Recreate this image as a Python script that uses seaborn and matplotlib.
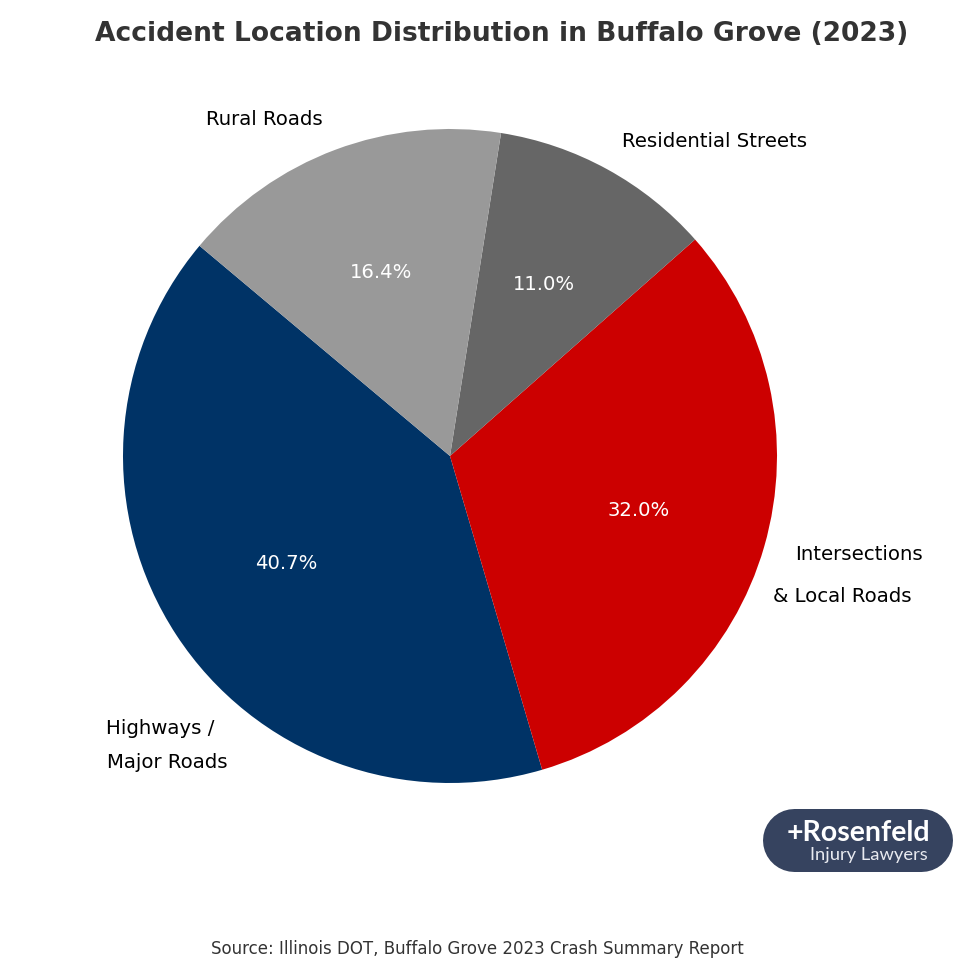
import matplotlib
matplotlib.use('Agg')
import matplotlib.pyplot as plt
import seaborn as sns

sns.set_theme(style='white')
plt.rcParams['font.family'] = ['DejaVu Sans']

title = 'Accident Location Distribution in Buffalo Grove (2023)'
source = 'Source: Illinois DOT, Buffalo Grove 2023 Crash Summary Report'
locations = ['Highways /\nMajor Roads', 'Intersections\n& Local Roads', 'Residential Streets', 'Rural Roads']
shares = [40.7, 32.0, 11.0, 16.4]
colors = ['#003366', '#CC0000', '#666666', '#999999']

# canvas is in pixels, y measured from the bottom
fig = plt.figure(figsize=(9.8, 9.8), dpi=100)
ax = fig.add_axes([0, 0, 1, 1])

wedges, _, pct_texts = ax.pie(
    shares, colors=sns.color_palette(colors), startangle=140, counterclock=True,
    center=(450, 524), radius=327, autopct='%.1f%%', pctdistance=0.6,
    wedgeprops={'linewidth': 0},
    textprops={'color': 'white', 'fontsize': 14.1})

ax.set_xlim(0, 980)
ax.set_ylim(0, 980)
ax.set_aspect('equal')
ax.axis('off')

ax.text(501.5, 946, title, ha='center', va='center', fontsize=19.1, fontweight='bold', color='#333333')

# labels sit by hand around the pie, two-line ones have a wide gap
label_font = {'fontsize': 14.2, 'color': 'black', 'va': 'center'}
ax.text(264, 860, locations[3], ha='center', **label_font)
ax.text(715, 838, locations[2], ha='center', **label_font)
first, second = locations[1].split('\n')
ax.text(859, 425, first, ha='center', **label_font)
ax.text(842, 383, second, ha='center', **label_font)
first, second = locations[0].split('\n')
ax.text(106, 251, first, ha='left', **label_font)
ax.text(107, 217, second, ha='left', **label_font)

ax.text(477, 31, source, ha='center', va='center', fontsize=12, color='#333333')

# logo badge, a thick round-capped line gives a true pill
ax.plot([793.5, 920.5], [140.5, 140.5], color='#36435F', linewidth=63 * 72 / 100,
        solid_capstyle='round')
ax.text(787, 147, '+Rosenfeld', ha='left', va='center', fontsize=20.5, color='white',
        family='Lato', fontweight='bold')
ax.text(928, 125, 'Injury Lawyers', ha='right', va='center', fontsize=13.2, color='#E8EAF0',
        family='Lato')

fig.savefig('out.png', dpi=100)
